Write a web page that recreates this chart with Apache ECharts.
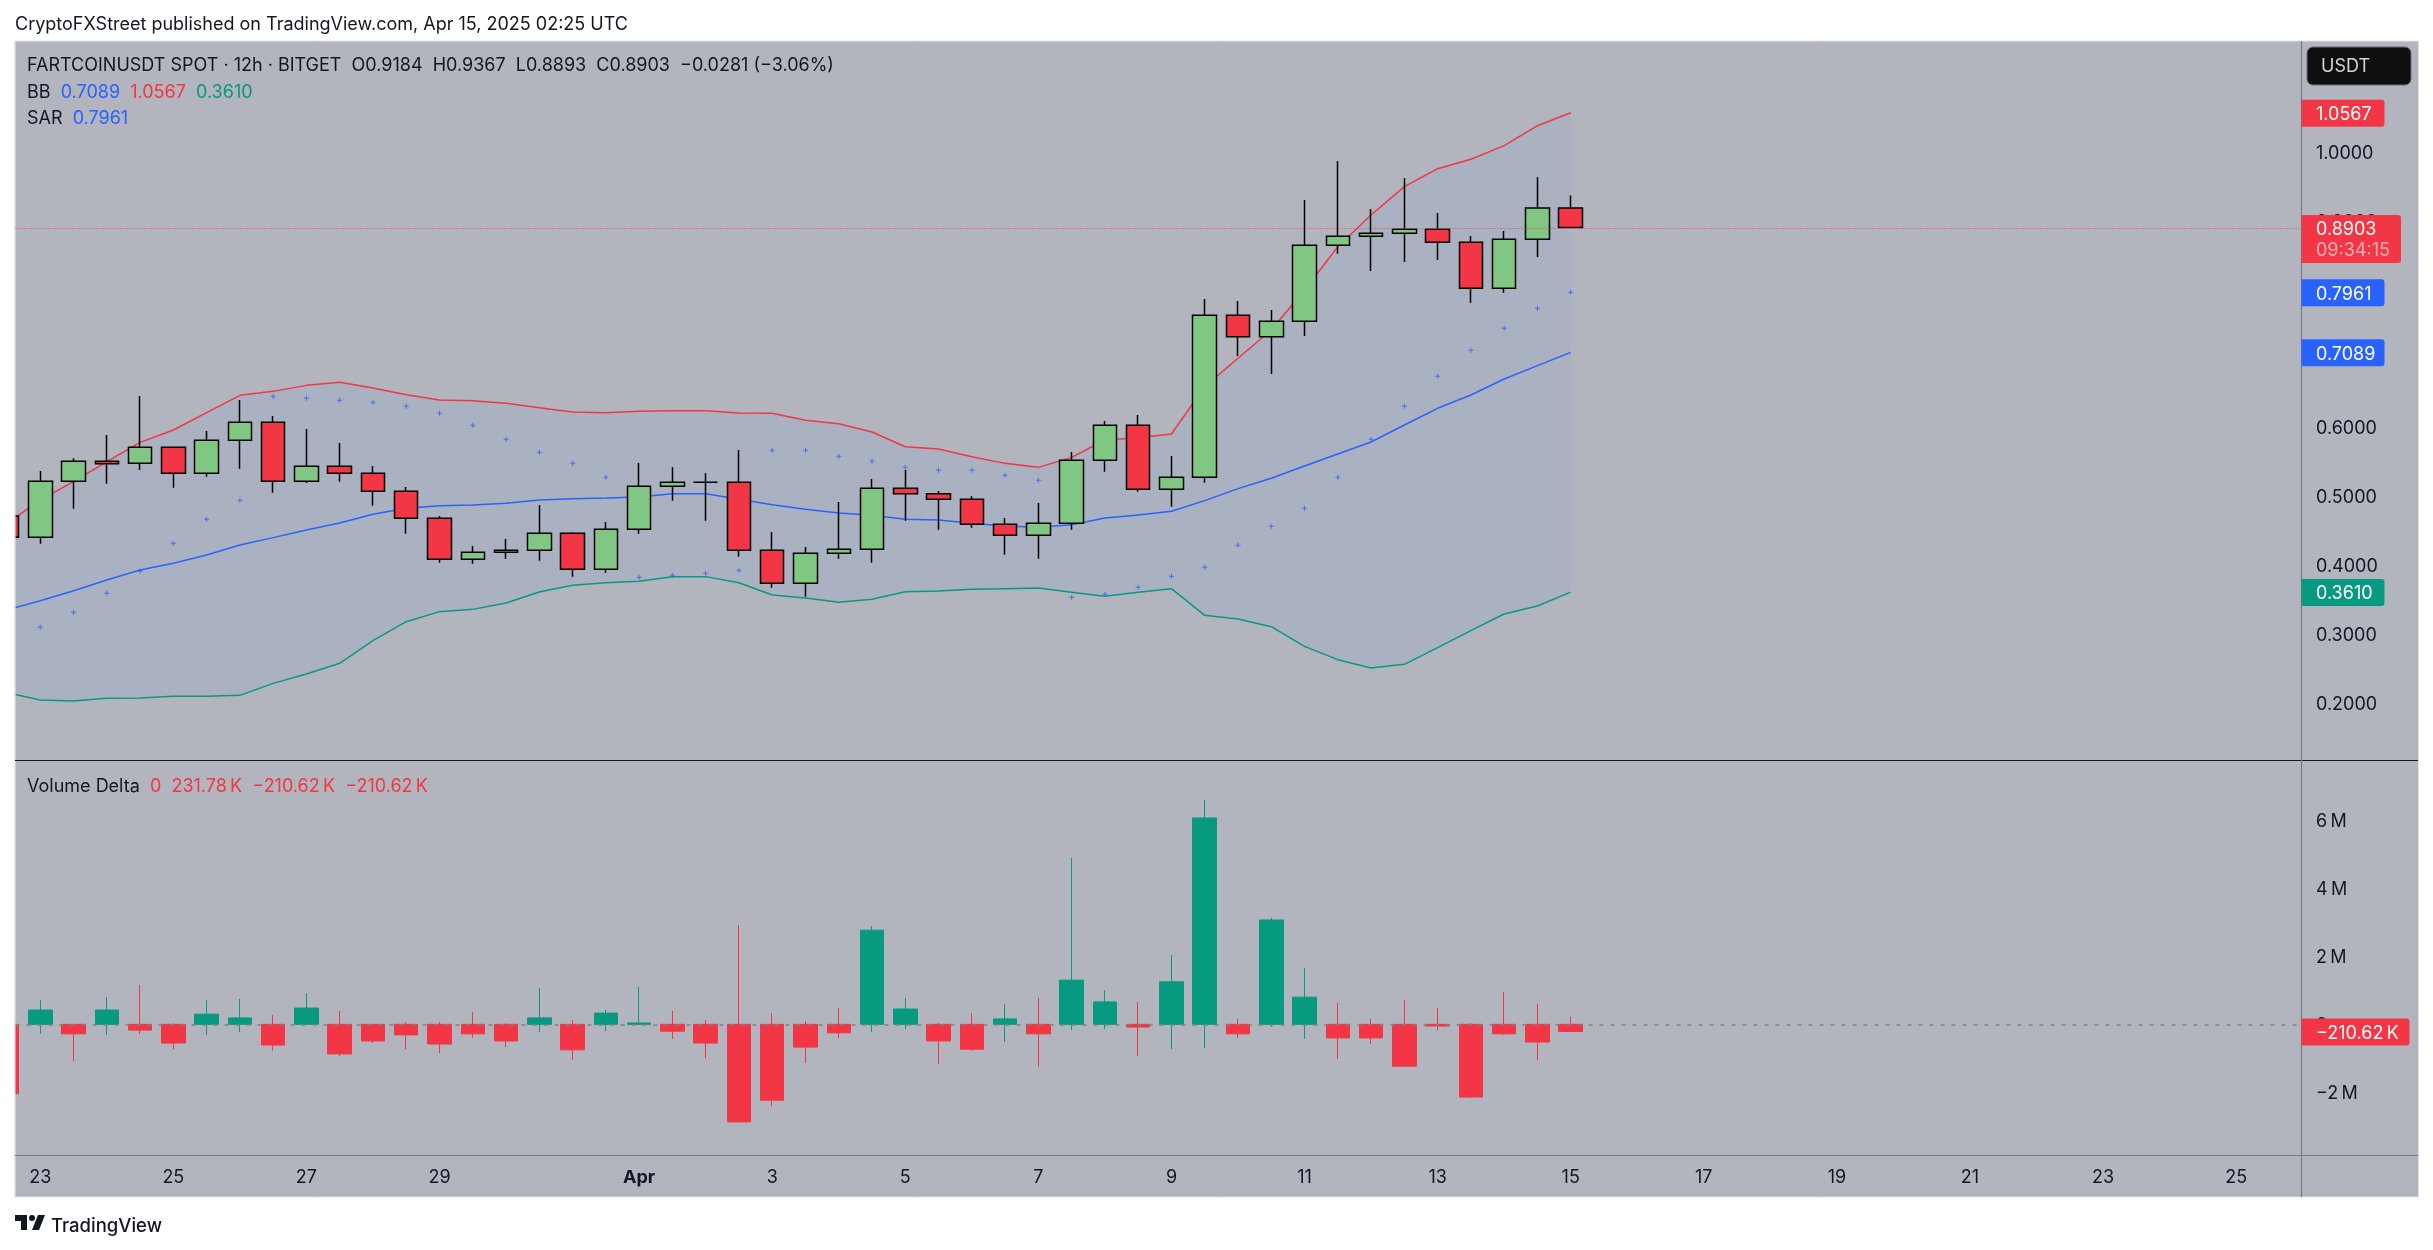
<!DOCTYPE html>
<html>
<head>
<meta charset="utf-8">
<style>
  html, body { margin: 0; padding: 0; background: #fff; }
  #main { width: 2433px; height: 1250px; }
</style>
<script src="https://cdn.jsdelivr.net/npm/echarts@6/dist/echarts.min.js"></script>
</head>
<body>
<div id="main"></div>
<script>
// one entry per 12h bar, first one is Mar 22 12:00, last one Apr 15 00:00
const opens = [0.4714,0.4404,0.5217,0.5507,0.5478,0.5711,0.5333,0.5812,0.6074,0.5217,0.5435,0.5333,0.5072,0.4680,0.4085,0.4187,0.4216,0.4462,0.3940,0.4521,0.5145,0.5203,0.5203,0.4216,0.3737,0.4172,0.4230,0.5116,0.5038,0.4956,0.4593,0.4433,0.4608,0.5522,0.6030,0.5101,0.5275,0.7627,0.7317,0.7540,0.8643,0.8773,0.8817,0.8875,0.8686,0.8018,0.8730,0.9184]
const highs = [0.4900,0.5367,0.5551,0.5890,0.6456,0.5711,0.5948,0.6398,0.6165,0.5977,0.5774,0.5440,0.5135,0.4714,0.4279,0.4380,0.4874,0.4477,0.4627,0.5483,0.5425,0.5338,0.5672,0.4482,0.4264,0.4917,0.5251,0.5382,0.5077,0.5004,0.4685,0.4903,0.5643,0.6093,0.6180,0.5585,0.7864,0.7835,0.7704,0.9301,0.9867,0.9170,0.9620,0.9112,0.8778,0.8851,0.9634,0.9367]
const lows = [0.4300,0.4312,0.4820,0.5183,0.5382,0.5125,0.5285,0.5396,0.5053,0.5193,0.5212,0.4864,0.4458,0.4037,0.4022,0.4095,0.4066,0.3834,0.3892,0.4458,0.4937,0.4646,0.4124,0.3674,0.3543,0.4095,0.4037,0.4646,0.4516,0.4545,0.4153,0.4095,0.4516,0.5357,0.5067,0.4849,0.5198,0.7036,0.6775,0.7327,0.8522,0.8270,0.8401,0.8430,0.7806,0.7956,0.8473,0.8893]
const closes = [0.4404,0.5217,0.5507,0.5474,0.5711,0.5333,0.5812,0.6074,0.5217,0.5435,0.5333,0.5072,0.4680,0.4085,0.4187,0.4216,0.4462,0.3940,0.4521,0.5145,0.5203,0.5203,0.4216,0.3737,0.4172,0.4230,0.5116,0.5038,0.4956,0.4593,0.4433,0.4608,0.5522,0.6030,0.5101,0.5275,0.7627,0.7317,0.7540,0.8643,0.8773,0.8817,0.8875,0.8686,0.8018,0.8730,0.9184,0.8903]

const bbUpper = [0.4608,0.4946,0.5212,0.5503,0.5783,0.5962,0.6214,0.6465,0.6523,0.6610,0.6654,0.6572,0.6475,0.6398,0.6388,0.6349,0.6286,0.6224,0.6214,0.6233,0.6243,0.6243,0.6209,0.6204,0.6103,0.6054,0.5933,0.5720,0.5687,0.5575,0.5478,0.5420,0.5565,0.5817,0.5851,0.5904,0.6591,0.7003,0.7414,0.7994,0.8623,0.9083,0.9494,0.9755,0.9891,1.0089,1.0379,1.0567]
const bbBasis = [0.3350,0.3485,0.3630,0.3785,0.3930,0.4027,0.4148,0.4293,0.4400,0.4511,0.4612,0.4738,0.4825,0.4864,0.4874,0.4898,0.4946,0.4966,0.4975,0.4990,0.5038,0.5038,0.4956,0.4878,0.4811,0.4758,0.4724,0.4666,0.4656,0.4608,0.4569,0.4550,0.4588,0.4685,0.4729,0.4782,0.4937,0.5111,0.5261,0.5440,0.5614,0.5788,0.6035,0.6277,0.6470,0.6703,0.6896,0.7089]
const bbLower = [0.2150,0.2044,0.2029,0.2068,0.2072,0.2097,0.2097,0.2111,0.2285,0.2421,0.2576,0.2905,0.3180,0.3326,0.3359,0.3451,0.3611,0.3708,0.3746,0.3766,0.3834,0.3834,0.3746,0.3567,0.3524,0.3461,0.3505,0.3616,0.3625,0.3650,0.3659,0.3669,0.3606,0.3548,0.3606,0.3659,0.3272,0.3219,0.3108,0.2822,0.2629,0.2508,0.2561,0.2803,0.3050,0.3292,0.3408,0.3610]
const sar = [null,0.3098,0.3316,0.3592,0.3911,0.4317,0.4666,0.4941,0.6451,0.6422,0.6393,0.6364,0.6306,0.6204,0.6030,0.5827,0.5638,0.5478,0.5275,0.3824,0.3853,0.3882,0.3925,0.5667,0.5667,0.5580,0.5507,0.5420,0.5377,0.5377,0.5304,0.5232,0.3534,0.3577,0.3679,0.3838,0.3969,0.4288,0.4564,0.4825,0.5275,0.5827,0.6306,0.6741,0.7119,0.7438,0.7728,0.7961]

// volume delta in millions
const deltaClose = [-2.04,0.42,-0.28,0.42,-0.17,-0.55,0.30,0.19,-0.61,0.48,-0.87,-0.49,-0.31,-0.58,-0.28,-0.49,0.19,-0.75,0.33,0.04,-0.20,-0.55,-2.87,-2.23,-0.67,-0.25,2.77,0.45,-0.49,-0.73,0.16,-0.28,1.30,0.66,-0.08,1.25,6.07,-0.28,3.07,0.80,-0.40,-0.40,-1.23,-0.05,-2.14,-0.28,-0.52,-0.21]
const deltaHigh = [0,0.72,0,0.80,1.16,0.03,0.72,0.75,0.27,0.92,0.39,0,0.07,0.07,0.36,0.03,1.07,0.13,0.42,1.10,0.39,0.13,2.92,0.33,0.10,0.48,2.89,0.77,0.04,0.33,0.60,0.77,4.89,1.01,0.66,2.04,6.60,0.16,3.13,1.66,0.63,0.16,0.72,0.48,0.04,0.95,0.60,0.23]
const deltaLow = [-2.04,-0.28,-1.08,-0.31,-0.28,-0.73,-0.31,-0.23,-0.78,0,-0.93,-0.55,-0.73,-0.84,-0.40,-0.67,-0.23,-1.05,-0.20,0,-0.43,-0.99,-2.87,-2.40,-1.14,-0.40,-0.23,-0.14,-1.17,-0.78,-0.52,-1.25,-0.17,-0.14,-0.93,-0.73,-0.70,-0.40,-0.08,-0.43,-1.02,-0.58,-1.25,-0.17,-2.17,-0.31,-1.05,-0.21]

const tickBars = [1,5,9,13,19,23,27,31,35,39,43,47,51,55,59,63,67]
const tickLabels = ['23','25','27','29','Apr','3','5','7','9','11','13','15','17','19','21','23','25']
const priceTicks = [0.2,0.3,0.4,0.5,0.6,0.7,0.8,0.9,1.0]
const deltaTicks = [-2,0,2,4,6]

const lastClose = 0.8903
const lastDelta = -0.21062

const RED = '#f23645'
const TEAL = '#089981'
const BLUE = '#2962ff'
const GREEN = '#81c784'
const INK = '#131722'
const AXIS = '#787b86'
const FONT = 'Inter, "Noto Sans", sans-serif'
const FS = 18

const pair = arr => arr.map((v, i) => [i, v])
const plus = 'path://M2 0h1v2h2v1H3v2H2V3H0V2h2z'

const bbLine = (name, data, color) => ({
  name, type: 'line', data: pair(data), symbol: 'none', z: 3,
  lineStyle: { color, width: 1.5 }
})

const chart = echarts.init(document.getElementById('main'), null, { renderer: 'canvas' })

const legendTitle = (text, left, top, rich, size, weight) => ({
  text, left, top, padding: 0,
  textStyle: { fontFamily: FONT, fontSize: size || FS, fontWeight: weight || 400, color: INK, rich }
})
const richBase = { fontFamily: FONT, fontSize: FS }
// pushes the scale labels a little below their tick, as on the reference
const scaleRich = { t: { fontFamily: FONT, fontSize: FS, color: INK, padding: [3, 0, 0, 0] } }

chart.setOption({
  animation: false,
  backgroundColor: '#fff',
  title: [
    legendTitle('CryptoFXStreet published on TradingView.com, Apr 15, 2025 02:25 UTC', 15, 16, {}),
    legendTitle('FARTCOINUSDT SPOT · 12h · BITGET  O0.9184  H0.9367  L0.8893  C0.8903  −0.0281 (−3.06%)', 27, 57, {}),
    legendTitle('BB  {b|0.7089}  {r|1.0567}  {t|0.3610}', 27, 83.5, {
      b: { ...richBase, color: BLUE }, r: { ...richBase, color: RED }, t: { ...richBase, color: TEAL }
    }),
    legendTitle('SAR  {b|0.7961}', 27, 109.5, { b: { ...richBase, color: BLUE } }),
    legendTitle('Volume Delta  {r|0  231.78\u2009K  −210.62\u2009K  −210.62\u2009K}', 27, 777.5, { r: { ...richBase, color: RED } }),
    legendTitle('TradingView', 51, 1217, {}, 18.5, 500)
  ],
  grid: [
    { left: 15.5, right: 132, top: 41, height: 719 },
    { left: 15.5, right: 132, top: 761, height: 394 }
  ],
  xAxis: [
    { type: 'value', gridIndex: 0, min: 0.2555, max: 68.95, show: false, splitLine: { show: false } },
    {
      type: 'value', gridIndex: 1, min: 0.2555, max: 68.95,
      axisLine: { show: false }, axisTick: { show: false }, splitLine: { show: false },
      axisLabel: {
        customValues: tickBars, margin: 14, color: INK, fontFamily: FONT, fontSize: FS,
        formatter: v => {
          const label = tickLabels[tickBars.indexOf(v)]
          return label === 'Apr' ? '{m|Apr}' : label
        },
        rich: { m: { fontFamily: FONT, fontSize: FS, fontWeight: 700, color: INK } }
      }
    }
  ],
  yAxis: [
    {
      type: 'value', gridIndex: 0, position: 'right', min: 0.11727, max: 1.16081,
      axisLine: { show: false }, axisTick: { show: false }, splitLine: { show: false },
      axisLabel: {
        customValues: priceTicks, margin: 15, rich: scaleRich,
        formatter: v => '{t|' + v.toFixed(4) + '}'
      }
    },
    {
      type: 'value', gridIndex: 1, position: 'right', min: -3.843, max: 7.745,
      axisLine: { show: false }, axisTick: { show: false }, splitLine: { show: false },
      axisLabel: {
        customValues: deltaTicks, margin: 15, rich: scaleRich,
        formatter: v => '{t|' + (v === 0 ? '0' : (v < 0 ? '−' + (-v) : v) + '\u2009M') + '}'
      }
    }
  ],
  series: [
    {
      name: 'BB band', type: 'custom', z: 1, clip: true, silent: true,
      data: [[24, 0.5]],
      renderItem: (params, api) => {
        const top = bbUpper.map((v, i) => api.coord([i, v]))
        const bottom = bbLower.map((v, i) => api.coord([i, v])).reverse()
        return { type: 'polygon', shape: { points: top.concat(bottom) }, style: { fill: 'rgba(33,118,243,0.05)' } }
      }
    },
    bbLine('BB upper', bbUpper, RED),
    bbLine('BB basis', bbBasis, BLUE),
    bbLine('BB lower', bbLower, TEAL),
    {
      name: 'SAR', type: 'scatter', z: 3, symbol: plus, symbolSize: 5,
      data: sar.map((v, i) => [i, v]).filter(d => d[1] !== null),
      itemStyle: { color: BLUE }
    },
    {
      name: 'price', type: 'candlestick', barWidth: 24, z: 5,
      data: opens.map((o, i) => [i, o, closes[i], lows[i], highs[i]]),
      itemStyle: {
        color: GREEN, color0: RED, borderColor: '#000', borderColor0: '#000',
        borderColorDoji: '#000', borderWidth: 1.5
      }
    },
    {
      name: 'volume delta', type: 'candlestick', xAxisIndex: 1, yAxisIndex: 1, barWidth: 24, z: 5,
      data: deltaClose.map((c, i) => [i, 0, c, deltaLow[i], deltaHigh[i]]),
      itemStyle: {
        color: TEAL, color0: RED, borderColor: TEAL, borderColor0: RED,
        borderColorDoji: RED, borderWidth: 1
      },
      markLine: {
        silent: true, symbol: 'none', z: 6, label: { show: false },
        lineStyle: { color: '#808080', type: [4, 7], width: 1.5 },
        data: [{ yAxis: 0 }]
      }
    }
  ]
})

// price scale tags sit on the library's own scale
const tag = (value, axisIndex, text, fill, width) => {
  const y = chart.convertToPixel({ yAxisIndex: axisIndex }, value)
  return [
    { type: 'rect', z: 100, silent: true, shape: { x: 2301.5, y: y - 13, width, height: 27, r: [0, 3, 3, 0] }, style: { fill } },
    { type: 'text', z: 101, silent: true, style: { text, x: 2316, y: y + 2, fill: '#fff', font: FS + 'px ' + FONT, verticalAlign: 'middle' } }
  ]
}
const line = (x1, y1, x2, y2, stroke, z) => ({
  type: 'line', z: z || 50, silent: true, shape: { x1, y1, x2, y2 }, style: { stroke, lineWidth: 1.2 }
})
const closeY = chart.convertToPixel({ yAxisIndex: 0 }, lastClose)
// snapped to a pixel row so the dots stay crisp
const closeRow = Math.ceil(closeY) + 0.5

chart.setOption({
  graphic: [
    { type: 'rect', z: -1, silent: true, shape: { x: 15, y: 41, width: 2403.5, height: 1156 }, style: { fill: '#b2b5be', stroke: '#e0e3eb', lineWidth: 1 } },
    // the first bar hangs past the left edge, candlesticks do not clip partly visible boxes
    { type: 'rect', z: 40, silent: true, shape: { x: 0, y: 42, width: 15, height: 1156 }, style: { fill: '#fff' } },
    line(15, 41, 15, 1197, '#d5d7dd', 41),
    { type: 'line', z: 45, silent: true, shape: { x1: 15.5, y1: closeRow, x2: 2299, y2: closeRow }, style: { stroke: RED, lineWidth: 1, lineDash: [1, 2] } },
    line(15, 760.5, 2418, 760.5, INK),
    line(15, 1155.5, 2418, 1155.5, AXIS),
    line(2301.5, 41, 2301.5, 1197, AXIS),
    { type: 'rect', z: 100, silent: true, shape: { x: 2307, y: 47, width: 104, height: 38, r: 6 }, style: { fill: '#0f0f0f', stroke: '#6a6d78', lineWidth: 1 } },
    { type: 'text', z: 101, silent: true, style: { text: 'USDT', x: 2321, y: 67, fill: '#d1d4dc', font: FS + 'px ' + FONT, verticalAlign: 'middle' } },
    ...tag(1.0567, 0, '1.0567', RED, 83),
    ...tag(0.7961, 0, '0.7961', BLUE, 83),
    ...tag(0.7089, 0, '0.7089', BLUE, 83),
    ...tag(0.3610, 0, '0.3610', TEAL, 83),
    ...tag(lastDelta, 1, '−210.62\u2009K', RED, 108),
    { type: 'rect', z: 100, silent: true, shape: { x: 2301.5, y: closeY - 12.5, width: 99.5, height: 48, r: [0, 3, 3, 0] }, style: { fill: RED } },
    { type: 'text', z: 101, silent: true, style: { text: '0.8903', x: 2316, y: closeY + 2, fill: '#fff', font: FS + 'px ' + FONT, verticalAlign: 'middle' } },
    { type: 'text', z: 101, silent: true, style: { text: '09:34:15', x: 2316, y: closeY + 23, fill: 'rgba(255,255,255,0.6)', font: FS + 'px ' + FONT, verticalAlign: 'middle' } },
    // TradingView mark
    { type: 'polygon', z: 10, silent: true, shape: { points: [[15, 1215], [27, 1215], [27, 1230], [21, 1230], [21, 1221], [15, 1221]] }, style: { fill: INK } },
    { type: 'polygon', z: 10, silent: true, shape: { points: [[39, 1230], [32, 1230], [38, 1215], [45, 1215]] }, style: { fill: INK } },
    { type: 'circle', z: 10, silent: true, shape: { cx: 32, cy: 1218, r: 3 }, style: { fill: INK } }
  ]
})
</script>
</body>
</html>
